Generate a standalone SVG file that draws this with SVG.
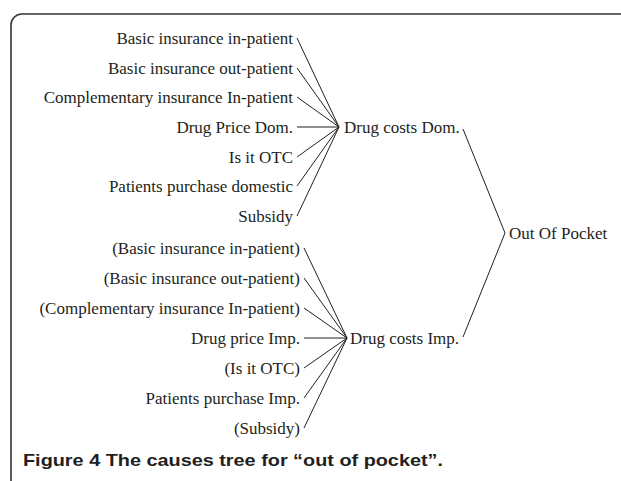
<svg xmlns="http://www.w3.org/2000/svg" width="621" height="481" viewBox="0 0 621 481">
<style>
.t{font-family:"Liberation Serif","Times New Roman",serif;font-size:17px;fill:#231f20}
.e{text-anchor:end}
.c{stroke:#231f20;stroke-width:1;fill:none}
.cap{font-family:"Liberation Sans",Arial,sans-serif;font-size:17px;font-weight:bold;fill:#231f20}
</style>
<rect width="621" height="481" fill="#fff"/>
<path d="M11,481 V25 A11,11 0 0 1 22,14 H621" fill="none" stroke="#333" stroke-width="1.6"/>
<g id="connectors" class="c">
<line x1="297" y1="38" x2="339" y2="127"/>
<line x1="297" y1="68" x2="339" y2="127"/>
<line x1="297" y1="97" x2="339" y2="127"/>
<line x1="297" y1="127" x2="339" y2="127"/>
<line x1="297" y1="157" x2="339" y2="127"/>
<line x1="297" y1="186" x2="339" y2="127"/>
<line x1="297" y1="216" x2="339" y2="127"/>
<line x1="304" y1="248" x2="347" y2="338"/>
<line x1="304" y1="278" x2="347" y2="338"/>
<line x1="304" y1="308" x2="347" y2="338"/>
<line x1="304" y1="338" x2="347" y2="338"/>
<line x1="304" y1="368" x2="347" y2="338"/>
<line x1="304" y1="398" x2="347" y2="338"/>
<line x1="304" y1="428" x2="347" y2="338"/>
<line x1="463" y1="129" x2="505" y2="233"/>
<line x1="463" y1="337" x2="505" y2="233"/>
</g>
<g id="n1"><text class="t e" x="293" y="44">Basic insurance in-patient</text></g>
<g id="n2"><text class="t e" x="293" y="74">Basic insurance out-patient</text></g>
<g id="n3"><text class="t e" x="293" y="103">Complementary insurance In-patient</text></g>
<g id="n4"><text class="t e" x="293" y="133">Drug Price Dom.</text></g>
<g id="n5"><text class="t e" x="293" y="163">Is it OTC</text></g>
<g id="n6"><text class="t e" x="293" y="192">Patients purchase domestic</text></g>
<g id="n7"><text class="t e" x="293" y="222">Subsidy</text></g>
<g id="dom"><text class="t" x="344" y="133">Drug costs Dom.</text></g>
<g id="m1"><text class="t e" x="300" y="254">(Basic insurance in-patient)</text></g>
<g id="m2"><text class="t e" x="300" y="284">(Basic insurance out-patient)</text></g>
<g id="m3"><text class="t e" x="300" y="314">(Complementary insurance In-patient)</text></g>
<g id="m4"><text class="t e" x="300" y="344">Drug price Imp.</text></g>
<g id="m5"><text class="t e" x="300" y="374">(Is it OTC)</text></g>
<g id="m6"><text class="t e" x="300" y="404">Patients purchase Imp.</text></g>
<g id="m7"><text class="t e" x="300" y="434">(Subsidy)</text></g>
<g id="imp"><text class="t" x="350" y="344">Drug costs Imp.</text></g>
<g id="oop"><text class="t" x="509" y="239">Out Of Pocket</text></g>
<text class="cap" x="23" y="466" textLength="420" lengthAdjust="spacingAndGlyphs">Figure 4 The causes tree for “out of pocket”.</text>
</svg>
